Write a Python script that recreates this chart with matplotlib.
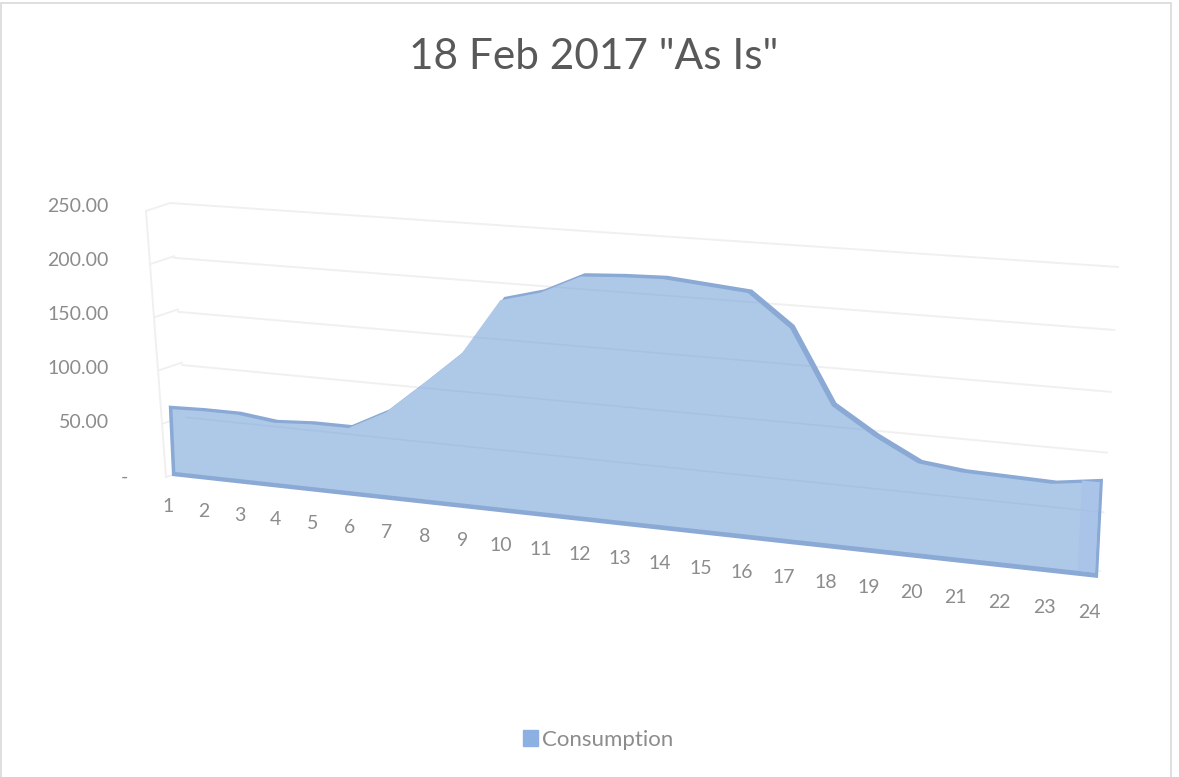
import numpy as np
import matplotlib
matplotlib.use("Agg")
import matplotlib.pyplot as plt
import matplotlib.transforms as mtransforms
from matplotlib.patches import Polygon, Patch, Rectangle

hours = [1, 2, 3, 4, 5, 6, 7, 8, 9, 10, 11, 12, 13, 14, 15, 16, 17, 18, 19, 20, 21, 22, 23, 24]
consumption = [64, 65, 65, 61, 63, 63, 80, 108, 137, 185, 194, 210, 212, 213, 210, 207,
               181, 121, 99, 81, 77, 76, 75, 80]
y_ticks = [0, 50, 100, 150, 200, 250]
y_labels = ["-", "50.00", "100.00", "150.00", "200.00", "250.00"]

GREY = "#8c8c8c"
plt.rcParams["font.family"] = ["Lato", "DejaVu Sans"]


class Perspective(mtransforms.Transform):
    """Projective map from (x, y) data to picture pixels, set by 4 corners."""
    input_dims = 2
    output_dims = 2
    is_affine = False

    def __init__(self, src, dst):
        super().__init__()
        rows, rhs = [], []
        for (x, y), (u, v) in zip(src, dst):
            rows.append([x, y, 1, 0, 0, 0, -u * x, -u * y])
            rows.append([0, 0, 0, x, y, 1, -v * x, -v * y])
            rhs += [u, v]
        self.h = np.append(np.linalg.solve(rows, rhs), 1).reshape(3, 3)

    def transform_non_affine(self, values):
        xyw = np.column_stack([values, np.ones(len(values))]) @ self.h.T
        return xyw[:, :2] / xyw[:, 2:]


fig = plt.figure(figsize=(11.79, 7.77), dpi=100)
ax = fig.add_axes([0, 0, 1, 1])
ax.set_xlim(0, 1179)
ax.set_ylim(777, 0)
ax.axis("off")

ax.add_patch(Rectangle((1, 3), 1170, 790, fc="white", ec="#d9d9d9", lw=1.2))

corners = [(1, 0), (24, 0), (1, 250), (24, 250)]
front = Perspective(corners, [(172, 476), (1098, 578), (159, 195), (1114, 261)]) + ax.transData
back = Perspective(corners, [(190, 469), (1100, 571), (170, 203), (1118, 267)]) + ax.transData
wall = Perspective([(0, 0), (1, 0), (0, 250), (1, 250)],
                   [(166, 477), (190, 469), (146, 211), (170, 203)]) + ax.transData

# walls and gridlines
for v in y_ticks:
    ax.plot([1, 24], [v, v], color="#f0f0f0", lw=1.4, transform=back, zorder=1)
    ax.plot([0, 1], [v, v], color="#f0f0f0", lw=1.4, transform=wall, zorder=1)
ax.plot([0, 0], [0, 250], color="#f0f0f0", lw=1.4, transform=wall, zorder=1)

# area: darker shell first, then the lighter face inset from it
shell_xy = [(1, 0)] + list(zip(hours, consumption)) + [(24, 0)]
shell = Polygon(shell_xy, closed=True, fc="#8aa9d4", ec="none", transform=front, zorder=2)
ax.add_patch(shell)

face_x = [h - 0.1 for h in hours]
face_x[0] = 1.1
face_x[-1] = 23.93
face_y = [v - 3 for v in consumption]
face_xy = [(1.1, 4)] + list(zip(face_x, face_y)) + [(23.93, 4)]
face = Polygon(face_xy, closed=True, fc="#aec8e8", ec="none", transform=front, zorder=3)
ax.add_patch(face)

# right hand strip and gridlines showing through the area
strip = Polygon([(23.55, 4), (23.55, consumption[-1] - 3), (23.93, consumption[-1] - 3), (23.93, 4)],
                closed=True, fc="#a9c4e8", ec="none", transform=front, zorder=3)
ax.add_patch(strip)
for v in y_ticks[1:]:
    ln, = ax.plot([1, 24], [v, v], color="#a7c1e2", lw=1.1, transform=back, zorder=4)
    ln.set_clip_path(face)

# tick labels
for v, lab in zip(y_ticks, y_labels):
    ax.text(109 if v else 128, 477 - 270 * v / 250, lab, ha="right", va="center",
            fontsize=14, color=GREY, zorder=5)
for h in hours:
    ax.text(h - 0.15, -29, str(h), ha="center", va="center", fontsize=14, color=GREY,
            transform=front, zorder=5)

ax.text(594, 57, '18 Feb 2017 "As Is"', ha="center", va="center", fontsize=30.5, color="#595959")

ax.legend(handles=[Patch(fc="#8db0e2", ec="#8db0e2", label="Consumption")], loc="center",
          bbox_to_anchor=(598, 740), bbox_transform=ax.transData, frameon=False,
          fontsize=16, labelcolor=GREY, handlelength=0.7, handleheight=0.7, handletextpad=0.15)

fig.savefig("out.png", dpi=100)
